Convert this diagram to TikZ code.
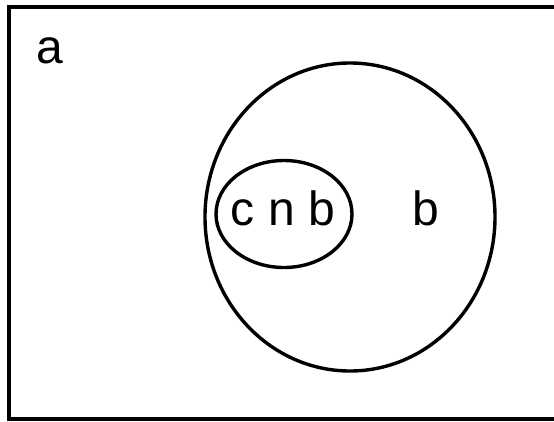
\documentclass[tikz,border=0pt]{standalone}
\usepackage{fontspec}
\setmainfont{Liberation Sans}
\usetikzlibrary{shapes.geometric}
\tikzset{
  setline/.style={draw=black, line width=3.4pt},
  setring/.style={setline, ellipse, inner sep=0pt},
  lab/.style={font=\fontsize{48}{48}\selectfont, inner sep=0pt, anchor=base,
    draw=none, text=black}
}
\begin{document}
\begin{tikzpicture}[x=1pt, y=-1pt]
  \useasboundingbox (0,0) rectangle (554,421);
  \clip (0,0) rectangle (554,421);
  % universe box, its right side runs off the page
  \draw[setline] (9,7) rectangle (580,419);
  \node[lab] (ua) at (50,63) {a};
  % the two sets
  \node[setring, minimum width=290pt, minimum height=308pt] (setb) at (350,217) {};
  \node[setring, minimum width=136pt, minimum height=107pt] (setcb) at (284,214) {};
  \node[lab] (labcb) at (283,225) {c n b};
  \node[lab] (labb) at (426,225) {b};
\end{tikzpicture}
\end{document}
